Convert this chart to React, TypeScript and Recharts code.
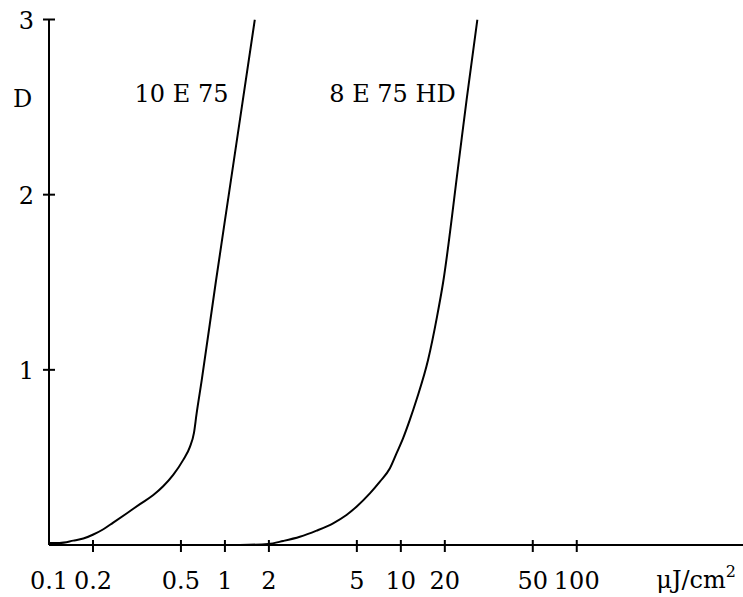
import React from "react";
import { LineChart, Line, XAxis, YAxis, Customized } from "recharts";

// x positions are expressed in decades on the drawn exposure axis (0.1 -> -1, 1 -> 0, 10 -> 1 ...)
const xTickPos = [-1, -0.75, -0.25, 0, 0.25, 0.75, 1, 1.25, 1.75, 2];
const xTickLabels = ["0.1", "0.2", "0.5", "1", "2", "5", "10", "20", "50", "100"];
const yTicks = [1, 2, 3];

const e10LogX = [-1.0, -0.94, -0.862, -0.805, -0.748, -0.691, -0.635, -0.559, -0.483, -0.407, -0.351, -0.294, -0.237, -0.199, -0.176, -0.161, -0.132, -0.052, 0.022, 0.17];
const e10D = [0.012, 0.012, 0.025, 0.037, 0.06, 0.09, 0.128, 0.18, 0.233, 0.285, 0.335, 0.4, 0.486, 0.56, 0.64, 0.75, 0.94, 1.5, 2.0, 3.0];

const e8LogX = [0.085, 0.246, 0.331, 0.426, 0.521, 0.615, 0.691, 0.748, 0.824, 0.881, 0.938, 0.976, 1.013, 1.051, 1.089, 1.155, 1.206, 1.24, 1.326, 1.374, 1.435];
const e8D = [0.0, 0.006, 0.023, 0.047, 0.082, 0.124, 0.171, 0.219, 0.295, 0.362, 0.438, 0.524, 0.61, 0.714, 0.829, 1.057, 1.305, 1.497, 2.162, 2.543, 3.0];

const e10Data = e10LogX.map((x, i) => ({ x, d: e10D[i] }));
const e8Data = e8LogX.map((x, i) => ({ x, d: e8D[i] }));

const FONT = "DejaVu Serif";
const FS = 24;

const XTick = (props: any) => {
  const { x, y, payload } = props;
  const i = xTickPos.indexOf(payload.value);
  return (
    <g>
      {i > 0 && <line x1={x} x2={x} y1={y - 5} y2={y + 7} stroke="#000" strokeWidth={2} />}
      <text x={x} y={y + 44} textAnchor="middle" fontFamily={FONT} fontSize={FS} fill="#000">
        {xTickLabels[i]}
      </text>
    </g>
  );
};

const YTick = (props: any) => {
  const { x, y, payload } = props;
  return (
    <g>
      <line x1={x - 6} x2={x + 6} y1={y} y2={y} stroke="#000" strokeWidth={2} />
      <text x={x - 15} y={y + 9} textAnchor="end" fontFamily={FONT} fontSize={FS} fill="#000">
        {payload.value}
      </text>
    </g>
  );
};

const Labels = () => (
  <g fill="#000">
    <text x={22.5} y={107} textAnchor="middle" fontFamily={FONT} fontSize={FS}>D</text>
    <text x={181.5} y={102} textAnchor="middle" fontFamily={FONT} fontSize={FS}>10 E 75</text>
    <text x={392.5} y={102} textAnchor="middle" fontFamily={FONT} fontSize={FS}>8 E 75 HD</text>
    <text x={736} y={588} textAnchor="end" fontFamily={FONT} fontSize={FS}>
      μJ/cm<tspan dy={-11} fontSize={16}>2</tspan>
    </text>
  </g>
);

export default function App() {
  return (
    <div style={{ position: "absolute", left: 0, top: 0, width: 743, height: 597, background: "#fff" }}>
      <LineChart width={743} height={597} margin={{ top: 19.5, right: 0, bottom: 0, left: 0 }}>
        <XAxis
          type="number"
          dataKey="x"
          domain={[-1, 2.945]}
          ticks={xTickPos}
          allowDataOverflow
          height={52}
          tickSize={0}
          tickMargin={0}
          tickLine={false}
          axisLine={{ stroke: "#000", strokeWidth: 2 }}
          tick={<XTick />}
          interval={0}
        />
        <YAxis
          type="number"
          dataKey="d"
          domain={[0, 3]}
          ticks={yTicks}
          allowDataOverflow
          width={49}
          tickSize={0}
          tickMargin={0}
          tickLine={false}
          axisLine={{ stroke: "#000", strokeWidth: 2 }}
          tick={<YTick />}
          interval={0}
        />
        <Line data={e10Data} dataKey="d" type="monotone" stroke="#000" strokeWidth={2} dot={false} isAnimationActive={false} />
        <Line data={e8Data} dataKey="d" type="monotone" stroke="#000" strokeWidth={2} dot={false} isAnimationActive={false} />
        <Customized component={Labels} />
      </LineChart>
    </div>
  );
}
